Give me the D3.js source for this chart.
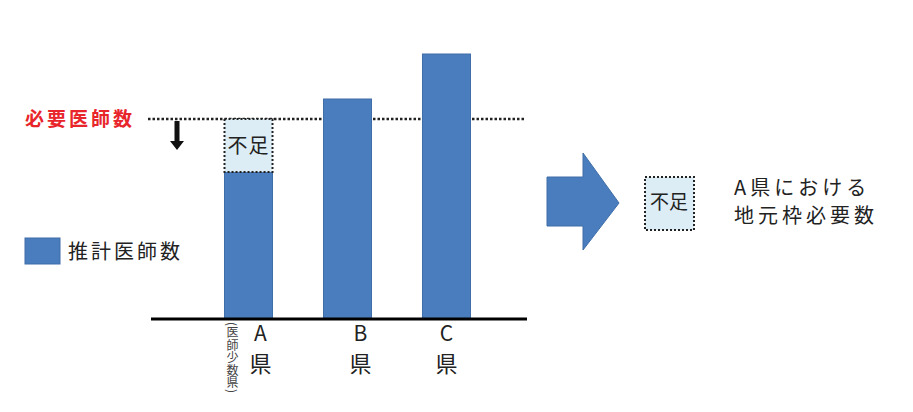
<!DOCTYPE html>
<html><head><meta charset="utf-8">
<script src="https://cdn.jsdelivr.net/npm/d3@7"></script>
<style>
html,body{margin:0;padding:0;background:#fff;}
svg text{font-family:"Noto Sans CJK JP","Noto Sans",sans-serif;}
</style></head>
<body>
<svg id="c" width="913" height="412"></svg>
<script>
// ---- data ----
const categories = ["A", "B", "C"];
const categorySuffix = "県";
const estimatedDoctors = [73.5, 110, 132.5];   // 推計医師数
const requiredDoctors = 100;                   // 必要医師数
const subNote = "(医師少数県)";
const requiredLabel = "必要医師数";
const legendLabel = "推計医師数";
const shortageLabel = "不足";
const resultLines = ["A県における", "地元枠必要数"];

const blue = "#4a7dbd", blueStroke = "#3f6ea8", pale = "#dcedf5";
const svg = d3.select("#c");

const x = d3.scaleBand().domain(categories).range([175, 520]).paddingInner(0.515).paddingOuter(0.5);
const y = d3.scaleLinear().domain([0, 100]).range([319, 119]);

// required line (dotted)
svg.append("line").attr("x1", 148).attr("x2", 526)
  .attr("y1", y(requiredDoctors)).attr("y2", y(requiredDoctors))
  .attr("stroke", "#222").attr("stroke-width", 2.5).attr("stroke-dasharray", "2.5,2");

// bars
svg.append("g").selectAll("rect").data(categories).join("rect")
  .attr("x", d => x(d)).attr("width", x.bandwidth())
  .attr("y", (d, i) => y(estimatedDoctors[i]))
  .attr("height", (d, i) => y(0) - y(estimatedDoctors[i]))
  .attr("fill", blue).attr("stroke", blueStroke).attr("stroke-width", 1);

// shortage box for categories below requirement
categories.forEach((c, i) => {
  if (estimatedDoctors[i] < requiredDoctors) {
    svg.append("rect").attr("x", x(c)).attr("width", x.bandwidth())
      .attr("y", y(requiredDoctors)).attr("height", y(estimatedDoctors[i]) - y(requiredDoctors))
      .attr("fill", pale).attr("stroke", "#222").attr("stroke-width", 2).attr("stroke-dasharray", "2,2");
    svg.append("text").attr("x", x(c) + x.bandwidth() / 2).attr("y", (y(requiredDoctors) + y(estimatedDoctors[i])) / 2 + 2)
      .attr("text-anchor", "middle").attr("dominant-baseline", "middle")
      .attr("font-size", 20).attr("letter-spacing", 1).attr("fill", "#222").text(shortageLabel);
  }
});

svg.append("text").attr("x", 25).attr("y", y(requiredDoctors) + 2)
  .attr("dominant-baseline", "middle").attr("font-size", 19).attr("font-weight", "bold")
  .attr("letter-spacing", 3).attr("fill", "#e8252b").text(requiredLabel);

// down arrow
const ax = 177, ay0 = y(requiredDoctors) + 2, ay1 = 150;
svg.append("path")
  .attr("d", `M${ax - 2.5},${ay0} L${ax + 2.5},${ay0} L${ax + 2.5},${ay1 - 9} L${ax + 7},${ay1 - 9} L${ax},${ay1} L${ax - 7},${ay1 - 9} L${ax - 2.5},${ay1 - 9} Z`)
  .attr("fill", "#111");

// baseline axis
const axisG = svg.append("g").attr("transform", `translate(0,${y(0)})`);
axisG.append("line").attr("x1", 151).attr("x2", 527).attr("stroke", "#000").attr("stroke-width", 3);

// category labels
const labelShift = {A: 12, B: 13, C: 0};
categories.forEach(c => {
  const cx = x(c) + x.bandwidth() / 2 + labelShift[c];
  svg.append("text").attr("x", cx).attr("y", 341).attr("text-anchor", "middle")
    .attr("font-size", 21).attr("fill", "#222").text(c);
  svg.append("text").attr("x", cx).attr("y", 372).attr("text-anchor", "middle")
    .attr("font-size", 22).attr("fill", "#222").text(categorySuffix);
});
svg.append("text").attr("x", x("A") + 8).attr("y", 322)
  .style("writing-mode", "vertical-rl").attr("font-size", 12).attr("letter-spacing", 0.5)
  .attr("fill", "#444").text(subNote);

// legend
svg.append("rect").attr("x", 25).attr("y", 238).attr("width", 35).attr("height", 26)
  .attr("fill", blue).attr("stroke", blueStroke);
svg.append("text").attr("x", 68).attr("y", 254).attr("dominant-baseline", "middle")
  .attr("font-size", 20).attr("letter-spacing", 3).attr("fill", "#222").text(legendLabel);

// right block arrow
svg.append("path").attr("d", "M547,177 L583,177 L583,153 L619,203 L583,250 L583,226 L547,226 Z")
  .attr("fill", blue).attr("stroke", blueStroke);

// legend shortage box
svg.append("rect").attr("x", 645).attr("y", 177).attr("width", 49).attr("height", 53)
  .attr("fill", pale).attr("stroke", "#222").attr("stroke-width", 2).attr("stroke-dasharray", "2,2");
svg.append("text").attr("x", 669).attr("y", 204).attr("text-anchor", "middle").attr("dominant-baseline", "middle")
  .attr("font-size", 19).attr("fill", "#222").text(shortageLabel);

svg.selectAll(null).data(resultLines).join("text")
  .attr("x", 734).attr("y", (d, i) => 190 + i * 28).attr("dominant-baseline", "middle")
  .attr("font-size", 20).attr("letter-spacing", 4).attr("fill", "#222").text(d => d);
</script>
</body></html>
